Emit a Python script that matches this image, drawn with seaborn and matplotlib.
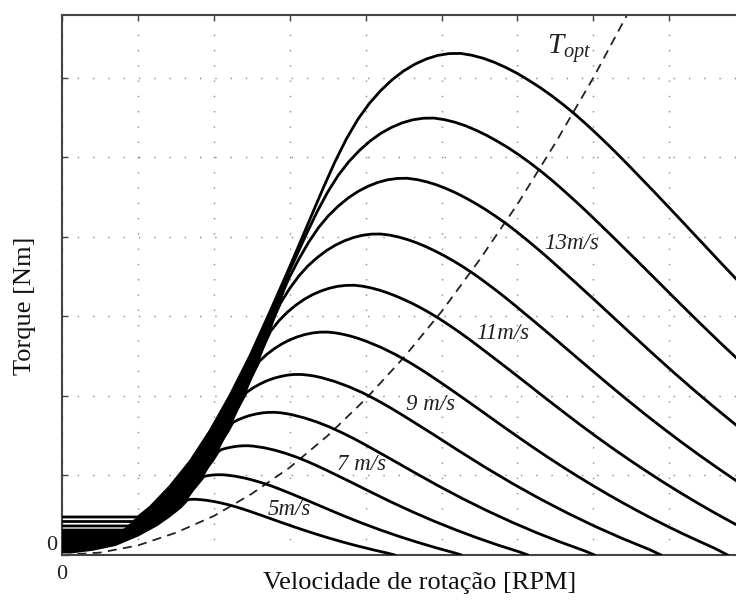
import matplotlib
matplotlib.use("Agg")
import matplotlib.pyplot as plt
import pandas as pd
import seaborn as sns

# Torque curves (rotor speed, torque) for each wind speed, in grid units
v05_w = [0, 0.13, 0.40, 0.70, 1.00, 1.25, 1.40, 1.56, 1.655, 1.70, 1.75,
         1.80, 1.90, 2.0, 2.1, 2.2, 2.3, 2.4, 2.5, 2.7, 2.9, 3.1, 3.3, 3.5, 3.7, 3.9, 4.1, 4.3, 4.385]
v05_t = [0.038, 0.038, 0.07, 0.13, 0.25, 0.38, 0.48, 0.60, 0.695, 0.700, 0.701,
         0.698, 0.688, 0.673, 0.653, 0.630, 0.603, 0.573, 0.541, 0.474, 0.406, 0.340, 0.277, 0.218,
         0.163, 0.112, 0.065, 0.021, 0.0]

v06_w = [0, 0.33, 0.64, 0.94, 1.19, 1.34, 1.50, 1.76, 1.87, 1.92, 1.98, 2.04, 2.10, 2.16,
         2.28, 2.40, 2.52, 2.64, 2.76, 2.88, 3.0, 3.24, 3.48, 3.72, 3.96, 4.20, 4.44, 4.68, 4.92,
         5.16, 5.262]
v06_t = [0.069, 0.069, 0.13, 0.25, 0.38, 0.48, 0.60, 0.86, 0.988, 0.998, 1.005, 1.009, 1.009, 1.006,
         0.991, 0.969, 0.940, 0.906, 0.868, 0.824, 0.778, 0.683, 0.585, 0.489, 0.398, 0.313, 0.234,
         0.161, 0.093, 0.030, 0.0]

v07_w = [0, 0.475, 0.59, 0.89, 1.14, 1.29, 1.45, 1.71, 1.98, 2.06, 2.10, 2.17, 2.24, 2.31, 2.38,
         2.45, 2.52, 2.66, 2.80, 2.94, 3.08, 3.22, 3.36, 3.50, 3.78, 4.06, 4.34, 4.62, 4.90, 5.18,
         5.46, 5.74, 6.02, 6.139]
v07_t = [0.107, 0.107, 0.13, 0.25, 0.38, 0.48, 0.60, 0.86, 1.18, 1.30, 1.326, 1.344, 1.358, 1.368,
         1.373, 1.374, 1.369, 1.349, 1.319, 1.280, 1.234, 1.181, 1.122, 1.059, 0.929, 0.796, 0.665,
         0.542, 0.426, 0.319, 0.219, 0.126, 0.041, 0.0]

v08_w = [0, 0.58, 0.84, 1.09, 1.24, 1.40, 1.66, 1.93, 2.19, 2.25, 2.32, 2.40, 2.48, 2.56, 2.64,
         2.72, 2.80, 2.88, 2.96, 3.04, 3.20, 3.36, 3.52, 3.68, 3.84, 4.0, 4.32, 4.64, 4.96, 5.28,
         5.60, 5.92, 6.24, 6.56, 6.88, 7.016]
v08_t = [0.145, 0.145, 0.25, 0.38, 0.48, 0.60, 0.86, 1.18, 1.56, 1.666, 1.700, 1.731, 1.756, 1.774,
         1.787, 1.793, 1.794, 1.788, 1.777, 1.762, 1.722, 1.672, 1.612, 1.542, 1.466, 1.384, 1.213,
         1.039, 0.869, 0.708, 0.557, 0.416, 0.285, 0.165, 0.054, 0.0]

v09_w = [0, 0.63, 0.80, 1.05, 1.20, 1.36, 1.62, 1.89, 2.15, 2.43, 2.52, 2.61, 2.70, 2.79, 2.88,
         2.97, 3.06, 3.15, 3.24, 3.33, 3.42, 3.60, 3.78, 3.96, 4.14, 4.32, 4.50, 4.86, 5.22, 5.58,
         5.94, 6.30, 6.66, 7.02, 7.38, 7.74, 7.893]
v09_t = [0.182, 0.182, 0.25, 0.38, 0.48, 0.60, 0.86, 1.18, 1.56, 2.044, 2.103, 2.151, 2.191, 2.222,
         2.245, 2.262, 2.270, 2.270, 2.262, 2.249, 2.230, 2.180, 2.116, 2.040, 1.952, 1.855, 1.751,
         1.536, 1.315, 1.100, 0.896, 0.705, 0.527, 0.361, 0.209, 0.068, 0.0]

v10_w = [0, 0.70, 0.76, 1.01, 1.16, 1.32, 1.58, 1.85, 2.11, 2.37, 2.60, 2.70, 2.80, 2.90, 3.00,
         3.10, 3.20, 3.30, 3.40, 3.50, 3.60, 3.70, 3.80, 3.90, 4.00, 4.20, 4.40, 4.60, 4.80, 5.00,
         5.20, 5.40, 5.60, 5.80, 6.00, 6.20, 6.40, 6.60, 6.80, 7.00, 7.20, 7.40, 7.60, 7.80, 8.00,
         8.20, 8.40, 8.60, 8.77]
v10_t = [0.226, 0.226, 0.25, 0.38, 0.48, 0.60, 0.86, 1.18, 1.56, 2.00, 2.436, 2.524, 2.596, 2.656,
         2.705, 2.743, 2.772, 2.792, 2.802, 2.803, 2.793, 2.776, 2.753, 2.724, 2.691, 2.612, 2.518,
         2.410, 2.290, 2.162, 2.030, 1.896, 1.760, 1.624, 1.490, 1.358, 1.230, 1.106, 0.986, 0.870,
         0.758, 0.650, 0.546, 0.446, 0.350, 0.258, 0.170, 0.084, 0.0]

v11_w = [0, 0.76, 0.97, 1.12, 1.28, 1.54, 1.81, 2.07, 2.33, 2.60, 2.75, 2.86, 2.97, 3.08, 3.19,
         3.30, 3.41, 3.52, 3.63, 3.74, 3.85, 3.96, 4.07, 4.18, 4.29, 4.40, 4.51, 4.62, 4.73, 4.84,
         4.95, 5.06, 5.17, 5.28, 5.39, 5.50, 5.72, 5.94, 6.16, 6.38, 6.60, 6.82, 7.04, 7.26, 7.48,
         7.70, 7.92, 8.14, 8.36, 8.58, 8.80, 9.02]
v11_t = [0.270, 0.270, 0.38, 0.48, 0.60, 0.86, 1.18, 1.56, 2.00, 2.51, 2.817, 2.948, 3.054, 3.141,
         3.214, 3.273, 3.319, 3.354, 3.378, 3.390, 3.392, 3.380, 3.359, 3.331, 3.296, 3.256, 3.210,
         3.161, 3.106, 3.047, 2.984, 2.916, 2.845, 2.771, 2.695, 2.616, 2.456, 2.294, 2.130, 1.965,
         1.803, 1.643, 1.488, 1.338, 1.193, 1.053, 0.917, 0.787, 0.661, 0.540, 0.424, 0.312]

v12_w = [0, 0.81, 0.94, 1.09, 1.25, 1.51, 1.78, 2.04, 2.30, 2.57, 2.88, 3.00, 3.12, 3.24,
         3.36, 3.48, 3.60, 3.72, 3.84, 3.96, 4.08, 4.20, 4.32, 4.44, 4.56, 4.68, 4.80, 4.92, 5.04,
         5.16, 5.28, 5.40, 5.52, 5.64, 5.76, 5.88, 6.00, 6.24, 6.48, 6.72, 6.96, 7.20, 7.44, 7.68,
         7.92, 8.16, 8.40, 8.64, 8.88, 9.12]
v12_t = [0.314, 0.314, 0.38, 0.48, 0.60, 0.86, 1.18, 1.56, 2.00, 2.51, 3.169, 3.352, 3.508,
         3.635, 3.738, 3.825, 3.895, 3.950, 3.992, 4.020, 4.035, 4.036, 4.022, 3.997, 3.964, 3.923,
         3.875, 3.820, 3.761, 3.696, 3.626, 3.551, 3.470, 3.385, 3.298, 3.207, 3.113, 2.923, 2.730,
         2.534, 2.339, 2.146, 1.956, 1.771, 1.593, 1.420, 1.253, 1.092, 0.936, 0.786]

v13_w = [0, 0.88, 1.06, 1.22, 1.48, 1.75, 2.01, 2.27, 2.54, 2.80, 2.99, 3.12, 3.25, 3.38,
         3.51, 3.64, 3.77, 3.90, 4.03, 4.16, 4.29, 4.42, 4.55, 4.68, 4.81, 4.94, 5.07, 5.20, 5.33,
         5.46, 5.59, 5.72, 5.85, 5.98, 6.11, 6.24, 6.37, 6.50, 6.76, 7.02, 7.28, 7.54, 7.80, 8.06,
         8.32, 8.58, 8.84, 9.10]
v13_t = [0.365, 0.365, 0.48, 0.60, 0.86, 1.18, 1.56, 2.00, 2.51, 3.06, 3.480, 3.720, 3.934,
         4.117, 4.266, 4.387, 4.489, 4.571, 4.636, 4.685, 4.718, 4.735, 4.737, 4.720, 4.691, 4.653,
         4.604, 4.548, 4.484, 4.414, 4.338, 4.255, 4.168, 4.073, 3.973, 3.870, 3.764, 3.654, 3.431,
         3.204, 2.974, 2.745, 2.518, 2.295, 2.079, 1.869, 1.666, 1.470]

v14_w = [0, 0.94, 1.03, 1.19, 1.45, 1.72, 1.98, 2.24, 2.51, 2.77, 2.94, 3.08, 3.22, 3.36, 3.50,
         3.64, 3.78, 3.92, 4.06, 4.20, 4.34, 4.48, 4.62, 4.76, 4.90, 5.04, 5.18, 5.32, 5.46, 5.60,
         5.74, 5.88, 6.02, 6.16, 6.30, 6.44, 6.58, 6.72, 6.86, 7.00, 7.28, 7.56, 7.84, 8.12, 8.40,
         8.68, 8.96, 9.24]
v14_t = [0.421, 0.421, 0.48, 0.60, 0.86, 1.18, 1.56, 2.00, 2.51, 3.06, 3.450, 3.744, 4.036, 4.314,
         4.563, 4.775, 4.947, 5.088, 5.206, 5.302, 5.376, 5.433, 5.472, 5.492, 5.494, 5.474, 5.441,
         5.396, 5.339, 5.274, 5.200, 5.120, 5.031, 4.935, 4.833, 4.724, 4.608, 4.488, 4.365, 4.238,
         3.979, 3.716, 3.450, 3.183, 2.920, 2.662, 2.411, 2.168]

v15_w = [0, 1.0, 1.16, 1.42, 1.69, 1.95, 2.21, 2.48, 2.74, 3.00, 3.15, 3.30, 3.45, 3.60, 3.75,
         3.90, 4.05, 4.20, 4.35, 4.50, 4.65, 4.80, 4.95, 5.10, 5.25, 5.40, 5.55, 5.70, 5.85, 6.00,
         6.15, 6.30, 6.45, 6.60, 6.75, 6.90, 7.05, 7.20, 7.35, 7.50, 7.80, 8.10, 8.40, 8.70, 9.00]
v15_t = [0.478, 0.478, 0.60, 0.86, 1.18, 1.56, 2.00, 2.51, 3.06, 3.623, 3.960, 4.298, 4.633, 4.952,
         5.238, 5.481, 5.679, 5.841, 5.976, 6.086, 6.172, 6.237, 6.282, 6.305, 6.307, 6.284, 6.246,
         6.194, 6.129, 6.055, 5.969, 5.877, 5.776, 5.666, 5.549, 5.423, 5.290, 5.153, 5.011, 4.865,
         4.568, 4.266, 3.960, 3.654, 3.353]

# Optimal torque trajectory
topt_w = [0, 0.5, 1.0, 1.5, 2.0, 2.5, 3.0, 3.5, 4.0, 4.5, 5.0, 5.5, 6.0, 6.5, 7.0, 7.5]
topt_t = [0.0, 0.03, 0.12, 0.28, 0.49, 0.77, 1.10, 1.50, 1.96, 2.48, 3.06, 3.71, 4.41, 5.18, 6.00, 6.89]

# Wind-speed annotations: text, x, y
speed_labels = ["5m/s", "7 m/s", "9 m/s", "11m/s", "13m/s"]
speed_label_w = [3.00, 3.94, 4.86, 5.80, 6.71]
speed_label_t = [0.57, 1.14, 1.89, 2.79, 3.92]

curves = {
    5: (v05_w, v05_t), 6: (v06_w, v06_t), 7: (v07_w, v07_t), 8: (v08_w, v08_t),
    9: (v09_w, v09_t), 10: (v10_w, v10_t), 11: (v11_w, v11_t), 12: (v12_w, v12_t),
    13: (v13_w, v13_t), 14: (v14_w, v14_t), 15: (v15_w, v15_t),
}
# index of the point where each curve leaves the common rising bundle
leave_idx = {5: 8, 6: 8, 7: 9, 8: 9, 9: 9, 10: 10, 11: 10, 12: 10, 13: 10, 15: 9}

rows = []
for v, (w, t) in curves.items():
    for i, (a, b) in enumerate(zip(w, t)):
        rows.append((v, i, a, b))
df = pd.DataFrame(rows, columns=["vento", "ordem", "rotacao", "torque"])
df_opt = pd.DataFrame({"rotacao": topt_w, "torque": topt_t})

# Outline of the dense bundle where the rising branches overlap
bundle = [(v12_w[0], v12_t[0]), (v12_w[1], v12_t[1])]
bundle += list(zip(v15_w[2:leave_idx[15] + 1], v15_t[2:leave_idx[15] + 1]))
for v in range(13, 4, -1):
    w, t = curves[v]
    k = leave_idx[v]
    bundle.append((w[k], t[k]))
bundle += list(zip(v05_w[leave_idx[5] - 1::-1], v05_t[leave_idx[5] - 1::-1]))
bundle_w = [p[0] for p in bundle]
bundle_t = [p[1] for p in bundle]

sns.set_theme(style="white")
plt.rcParams["font.family"] = ["Liberation Serif", "DejaVu Serif"]
plt.rcParams["mathtext.fontset"] = "custom"
plt.rcParams["mathtext.it"] = "Liberation Serif:italic"
plt.rcParams["mathtext.rm"] = "Liberation Serif"

fig = plt.figure(figsize=(7.36, 6.04), dpi=100)
ax = fig.add_axes([62 / 736, 49 / 604, 674 / 736, 540 / 604])

ax.fill(bundle_w, bundle_t, color="black", lw=0, zorder=3)
sns.lineplot(data=df, x="rotacao", y="torque", units="vento", estimator=None,
             sort=False, color="black", lw=2.0, ax=ax, zorder=3)
sns.lineplot(data=df_opt, x="rotacao", y="torque", color="#222222", lw=1.3,
             linestyle=(0, (5, 3.5)), ax=ax, zorder=2)

ax.set_xlim(0, 8.88)
ax.set_ylim(0, 6.79)
ax.set_xticks(range(0, 9))
ax.set_yticks(range(0, 7))
ax.set_xticklabels(["0"] + [""] * 8)
ax.set_yticklabels(["0"] + [""] * 6)
ax.tick_params(axis="both", direction="in", length=4, width=1, color="#444444",
               labelsize=16, labelcolor="#222222")
ax.tick_params(axis="x", top=True, pad=7)
ax.tick_params(axis="y", left=True, right=False, pad=3.5)
for lab in ax.get_yticklabels():
    lab.set_va("bottom")

ax.grid(True, linestyle=(0, (1, 10)), color="#888888", lw=1.0)
ax.set_axisbelow(True)
for side in ["top", "left", "bottom"]:
    ax.spines[side].set_visible(True)
    ax.spines[side].set_color("#444444")
    ax.spines[side].set_linewidth(1.5)
ax.spines["right"].set_visible(False)

ax.set_xlabel("Velocidade de rotação [RPM]", fontsize=19, color="#111111")
ax.set_ylabel("Torque [Nm]", fontsize=19, color="#111111")
ax.xaxis.set_label_coords(0.531, -0.0315)
ax.yaxis.set_label_coords(-0.0386, 0.461)

for txt, xw, yt in zip(speed_labels, speed_label_w, speed_label_t):
    ax.text(xw, yt, txt, fontsize=16.5, fontstyle="italic", ha="center", va="center",
            color="#222222", zorder=4)
ax.text(6.39, 6.30, r"$T_{opt}$", fontsize=21, ha="left", va="baseline", color="#222222")

fig.savefig("out.png", dpi=100)
